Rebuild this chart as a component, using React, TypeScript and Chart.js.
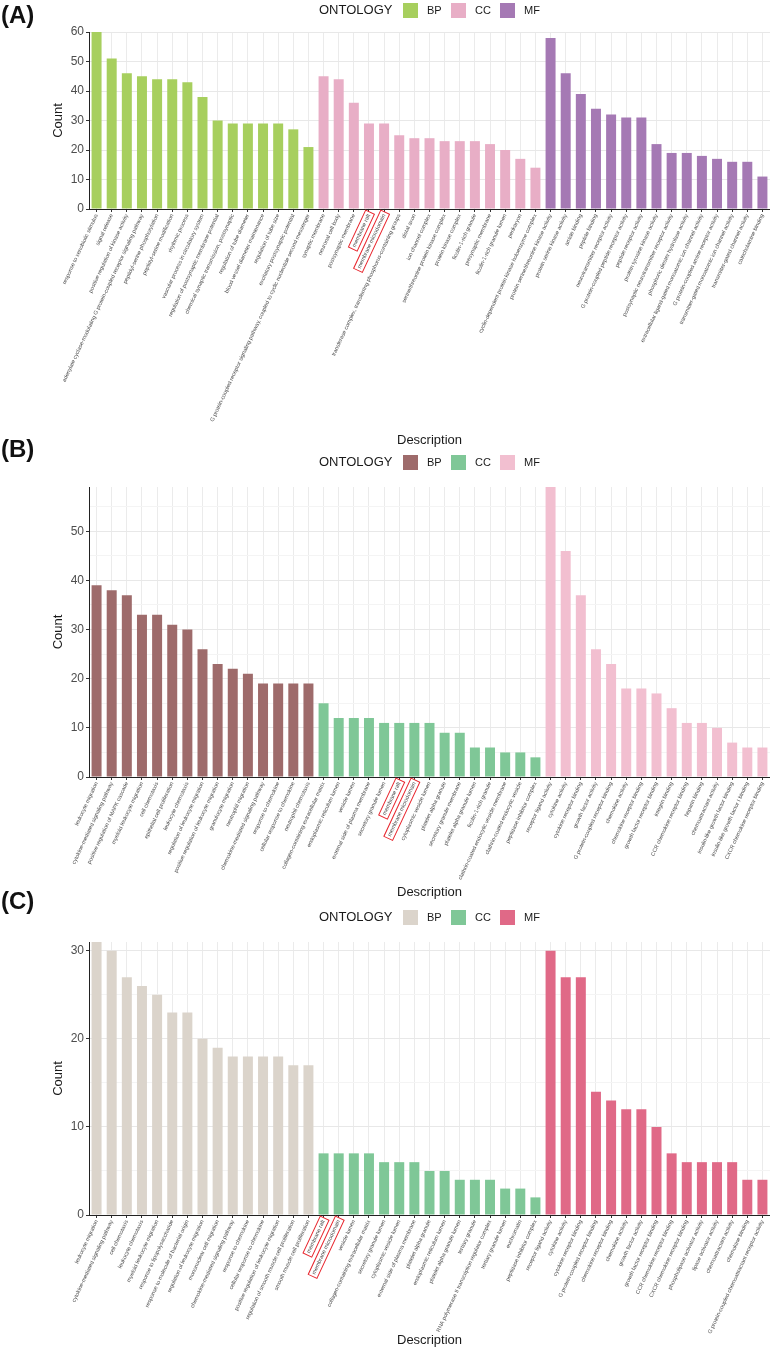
import React, { useEffect, useRef } from "react";
import { Chart, registerables } from "chart.js";

Chart.register(...registerables);

// ---------- Panel A data ----------
const aBpLabels = [
  "response to xenobiotic stimulus",
  "signal release",
  "positive regulation of kinase activity",
  "adenylate cyclase-modulating G protein-coupled receptor signaling pathway",
  "peptidyl-serine phosphorylation",
  "peptidyl-serine modification",
  "rhythmic process",
  "vascular process in circulatory system",
  "regulation of postsynaptic membrane potential",
  "chemical synaptic transmission, postsynaptic",
  "regulation of tube diameter",
  "blood vessel diameter maintenance",
  "regulation of tube size",
  "excitatory postsynaptic potential",
  "G protein-coupled receptor signaling pathway, coupled to cyclic nucleotide second messenger",
];
const aBpCounts = [60, 51, 46, 45, 44, 44, 43, 38, 30, 29, 29, 29, 29, 27, 21];
const aCcLabels = [
  "synaptic membrane",
  "neuronal cell body",
  "postsynaptic membrane",
  "membrane raft",
  "membrane microdomain",
  "transferase complex, transferring phosphorus-containing groups",
  "distal axon",
  "ion channel complex",
  "serine/threonine protein kinase complex",
  "protein kinase complex",
  "ficolin-1-rich granule",
  "presynaptic membrane",
  "ficolin-1-rich granule lumen",
  "perikaryon",
  "cyclin-dependent protein kinase holoenzyme complex",
];
const aCcCounts = [45, 44, 36, 29, 29, 25, 24, 24, 23, 23, 23, 22, 20, 17, 14];
const aMfLabels = [
  "protein serine/threonine kinase activity",
  "protein serine kinase activity",
  "amide binding",
  "peptide binding",
  "neurotransmitter receptor activity",
  "G protein-coupled peptide receptor activity",
  "peptide receptor activity",
  "protein tyrosine kinase activity",
  "postsynaptic neurotransmitter receptor activity",
  "phosphoric diester hydrolase activity",
  "extracellular ligand-gated monoatomic ion channel activity",
  "G protein-coupled amine receptor activity",
  "transmitter-gated monoatomic ion channel activity",
  "transmitter-gated channel activity",
  "catecholamine binding",
];
const aMfCounts = [58, 46, 39, 34, 32, 31, 31, 22, 19, 19, 18, 17, 16, 16, 11];

// ---------- Panel B data ----------
const bBpLabels = [
  "leukocyte migration",
  "cytokine-mediated signaling pathway",
  "positive regulation of MAPK cascade",
  "myeloid leukocyte migration",
  "cell chemotaxis",
  "epithelial cell proliferation",
  "leukocyte chemotaxis",
  "regulation of leukocyte migration",
  "positive regulation of leukocyte migration",
  "granulocyte migration",
  "neutrophil migration",
  "chemokine-mediated signaling pathway",
  "response to chemokine",
  "cellular response to chemokine",
  "neutrophil chemotaxis",
];
const bBpCounts = [39, 38, 37, 33, 33, 31, 30, 26, 23, 22, 21, 19, 19, 19, 19];
const bCcLabels = [
  "collagen-containing extracellular matrix",
  "endoplasmic reticulum lumen",
  "vesicle lumen",
  "external side of plasma membrane",
  "secretory granule lumen",
  "membrane raft",
  "membrane microdomain",
  "cytoplasmic vesicle lumen",
  "platelet alpha granule",
  "secretory granule membrane",
  "platelet alpha granule lumen",
  "ficolin-1-rich granule",
  "clathrin-coated endocytic vesicle membrane",
  "clathrin-coated endocytic vesicle",
  "peptidase inhibitor complex",
];
const bCcCounts = [15, 12, 12, 12, 11, 11, 11, 11, 9, 9, 6, 6, 5, 5, 4];
const bMfLabels = [
  "receptor ligand activity",
  "cytokine activity",
  "cytokine receptor binding",
  "growth factor activity",
  "G protein-coupled receptor binding",
  "chemokine activity",
  "chemokine receptor binding",
  "growth factor receptor binding",
  "integrin binding",
  "CCR chemokine receptor binding",
  "heparin binding",
  "chemoattractant activity",
  "insulin-like growth factor binding",
  "insulin-like growth factor I binding",
  "CXCR chemokine receptor binding",
];
const bMfCounts = [59, 46, 37, 26, 23, 18, 18, 17, 14, 11, 11, 10, 7, 6, 6];

// ---------- Panel C data ----------
const cBpLabels = [
  "leukocyte migration",
  "cytokine-mediated signaling pathway",
  "cell chemotaxis",
  "leukocyte chemotaxis",
  "myeloid leukocyte migration",
  "response to lipopolysaccharide",
  "response to molecule of bacterial origin",
  "regulation of leukocyte migration",
  "mononuclear cell migration",
  "chemokine-mediated signaling pathway",
  "response to chemokine",
  "cellular response to chemokine",
  "positive regulation of leukocyte migration",
  "regulation of smooth muscle cell proliferation",
  "smooth muscle cell proliferation",
];
const cBpCounts = [31, 30, 27, 26, 25, 23, 23, 20, 19, 18, 18, 18, 18, 17, 17];
const cCcLabels = [
  "membrane raft",
  "membrane microdomain",
  "vesicle lumen",
  "collagen-containing extracellular matrix",
  "secretory granule lumen",
  "cytoplasmic vesicle lumen",
  "external side of plasma membrane",
  "platelet alpha granule",
  "endoplasmic reticulum lumen",
  "platelet alpha granule lumen",
  "tertiary granule",
  "RNA polymerase II transcription regulator complex",
  "tertiary granule lumen",
  "euchromatin",
  "peptidase inhibitor complex",
];
const cCcCounts = [7, 7, 7, 7, 6, 6, 6, 5, 5, 4, 4, 4, 3, 3, 2];
const cMfLabels = [
  "receptor ligand activity",
  "cytokine activity",
  "cytokine receptor binding",
  "G protein-coupled receptor binding",
  "chemokine receptor binding",
  "chemokine activity",
  "growth factor activity",
  "growth factor receptor binding",
  "CCR chemokine receptor binding",
  "CXCR chemokine receptor binding",
  "phospholipase activator activity",
  "lipase activator activity",
  "chemoattractant activity",
  "chemokine binding",
  "G protein-coupled chemoattractant receptor activity",
];
const cMfCounts = [30, 27, 27, 14, 13, 12, 12, 10, 7, 6, 6, 6, 6, 4, 4];

const ontologyNames = ["BP", "CC", "MF"];
const highlightedTerms = ["membrane raft", "membrane microdomain"];
const yAxisMax = { A: 60, B: 59, C: 31 };

const FONT = "'Liberation Sans', Arial, sans-serif";
const CANVAS_W = 770;
const Y_AXIS_W = 89;

type Group = { name: string; labels: string[]; counts: number[]; color: string };
type PanelSpec = {
  tag: string;
  top: number;
  height: number;
  plotTop: number;
  plotBottom: number;
  legendY: number;
  tagY: number;
  yMax: number;
  titlePad: number;
  groups: Group[];
};

const panels: PanelSpec[] = [
  {
    tag: "(A)", top: 0, height: 448, plotTop: 32, plotBottom: 209, legendY: 10, tagY: 15,
    yMax: yAxisMax.A, titlePad: 0,
    groups: [
      { name: ontologyNames[0], labels: aBpLabels, counts: aBpCounts, color: "#a7cf5e" },
      { name: ontologyNames[1], labels: aCcLabels, counts: aCcCounts, color: "#e8aec6" },
      { name: ontologyNames[2], labels: aMfLabels, counts: aMfCounts, color: "#a579b4" },
    ],
  },
  {
    tag: "(B)", top: 448, height: 452, plotTop: 39, plotBottom: 329, legendY: 14, tagY: 1,
    yMax: yAxisMax.B, titlePad: 0,
    groups: [
      { name: ontologyNames[0], labels: bBpLabels, counts: bBpCounts, color: "#9e6b6b" },
      { name: ontologyNames[1], labels: bCcLabels, counts: bCcCounts, color: "#7fc797" },
      { name: ontologyNames[2], labels: bMfLabels, counts: bMfCounts, color: "#f2bfd0" },
    ],
  },
  {
    tag: "(C)", top: 900, height: 453, plotTop: 42, plotBottom: 315, legendY: 17, tagY: 1,
    yMax: yAxisMax.C, titlePad: 5,
    groups: [
      { name: ontologyNames[0], labels: cBpLabels, counts: cBpCounts, color: "#dbd4cb" },
      { name: ontologyNames[1], labels: cCcLabels, counts: cCcCounts, color: "#7fc797" },
      { name: ontologyNames[2], labels: cMfLabels, counts: cMfCounts, color: "#e06987" },
    ],
  },
];

const highlightPlugin = {
  id: "highlightLabels",
  afterDraw(chart: any) {
    const scale = chart.scales.x;
    const items = scale.getLabelItems ? scale.getLabelItems() : scale._labelItems;
    if (!items) return;
    const ctx = chart.ctx;
    items.forEach((item: any) => {
      const text = String(item.label);
      if (!highlightedTerms.includes(text)) return;
      const [tx, ty] = item.options.translation;
      const rot = item.options.rotation;
      ctx.save();
      ctx.font = item.font.string;
      const w = ctx.measureText(text).width;
      const lh = item.font.lineHeight;
      ctx.translate(tx, ty);
      ctx.rotate(rot);
      ctx.strokeStyle = "#e8262e";
      ctx.lineWidth = 1;
      const cy = item.textOffset;
      ctx.strokeRect(-w - 2.5, cy - lh / 2 - 1.5, w + 5, lh + 3);
      ctx.restore();
    });
  },
};

function Panel({ spec }: { spec: PanelSpec }) {
  const ref = useRef<HTMLCanvasElement | null>(null);

  useEffect(() => {
    if (!ref.current) return;
    const labels = spec.groups.flatMap((g) => g.labels);
    const data = spec.groups.flatMap((g) => g.counts);
    const colors = spec.groups.flatMap((g) => g.labels.map(() => g.color));
    const H = spec.height;
    const chart = new Chart(ref.current, {
      type: "bar",
      data: {
        labels,
        datasets: [
          {
            data,
            backgroundColor: colors,
            borderWidth: 0,
            barPercentage: 0.66,
            categoryPercentage: 1,
          },
        ],
      },
      options: {
        animation: false,
        responsive: false,
        maintainAspectRatio: false,
        layout: { padding: { top: spec.plotTop, left: 0, right: 0, bottom: 0 } },
        plugins: { legend: { display: false }, tooltip: { enabled: false } },
        scales: {
          x: {
            offset: true,
            grid: {
              offset: false,
              color: "#ebebeb",
              lineWidth: 1,
              drawTicks: true,
              tickLength: 3,
              tickColor: "#333333",
            },
            border: { display: true, color: "#222222", width: 1 },
            ticks: {
              autoSkip: false,
              minRotation: 65,
              maxRotation: 65,
              padding: 1,
              color: "#4d4d4d",
              font: { family: FONT, size: 5.5 },
            },
            title: {
              display: true,
              text: "Description",
              color: "#1a1a1a",
              font: { family: FONT, size: 13 },
              padding: { top: 0, bottom: spec.titlePad },
            },
            afterFit: (axis: any) => {
              axis.height = H - spec.plotBottom;
            },
          },
          y: {
            min: 0,
            max: spec.yMax,
            grid: {
              color: (c: any) => (c.tick && c.tick.value % 10 !== 0 ? "#f4f4f4" : "#e8e8e8"),
              lineWidth: 1,
              drawTicks: true,
              tickLength: 3,
              tickColor: (c: any) => (c.tick && c.tick.value % 10 !== 0 ? "rgba(0,0,0,0)" : "#333333"),
            },
            border: { display: true, color: "#222222", width: 1 },
            ticks: {
              stepSize: 5,
              includeBounds: false,
              padding: 2,
              color: "#4d4d4d",
              font: { family: FONT, size: 12 },
              callback: (v: any) => (Number(v) % 10 === 0 ? String(v) : ""),
            },
            title: {
              display: true,
              text: "Count",
              color: "#1a1a1a",
              font: { family: FONT, size: 13 },
              padding: { top: 51, bottom: 0 },
            },
            afterFit: (axis: any) => {
              axis.width = Y_AXIS_W;
            },
          },
        },
      },
      plugins: [highlightPlugin],
    });
    return () => chart.destroy();
  }, [spec]);

  const boxLefts = [403, 451, 500];
  const textLefts = [427, 475, 524];

  return (
    <div style={{ position: "absolute", left: 0, top: spec.top, width: CANVAS_W, height: spec.height }}>
      <canvas
        ref={ref}
        width={CANVAS_W}
        height={spec.height}
        style={{ position: "absolute", left: 0, top: 0, width: CANVAS_W, height: spec.height, display: "block" }}
      />
      <div
        style={{
          position: "absolute",
          left: 1,
          top: spec.tagY - 14,
          height: 28,
          lineHeight: "28px",
          fontFamily: "'Liberation Sans Narrow', 'Liberation Sans', Arial, sans-serif",
          fontWeight: 700,
          fontSize: 24,
          color: "#111",
          whiteSpace: "nowrap",
        }}
      >
        {spec.tag}
      </div>
      <div
        style={{
          position: "absolute",
          left: 319,
          top: spec.legendY - 9,
          height: 18,
          lineHeight: "18px",
          fontFamily: FONT,
          fontSize: 13,
          color: "#1a1a1a",
          whiteSpace: "nowrap",
        }}
      >
        ONTOLOGY
      </div>
      {spec.groups.map((g, i) => (
        <React.Fragment key={g.name}>
          <div
            style={{
              position: "absolute",
              left: boxLefts[i],
              top: spec.legendY - 7.5,
              width: 15,
              height: 15,
              background: g.color,
            }}
          />
          <div
            style={{
              position: "absolute",
              left: textLefts[i],
              top: spec.legendY - 8,
              height: 16,
              lineHeight: "16px",
              fontFamily: FONT,
              fontSize: 11,
              color: "#1a1a1a",
              whiteSpace: "nowrap",
            }}
          >
            {g.name}
          </div>
        </React.Fragment>
      ))}
    </div>
  );
}

export default function App() {
  return (
    <div style={{ position: "absolute", left: 0, top: 0, width: CANVAS_W, height: 1353, background: "#fff" }}>
      {panels.map((p) => (
        <Panel key={p.tag} spec={p} />
      ))}
    </div>
  );
}
